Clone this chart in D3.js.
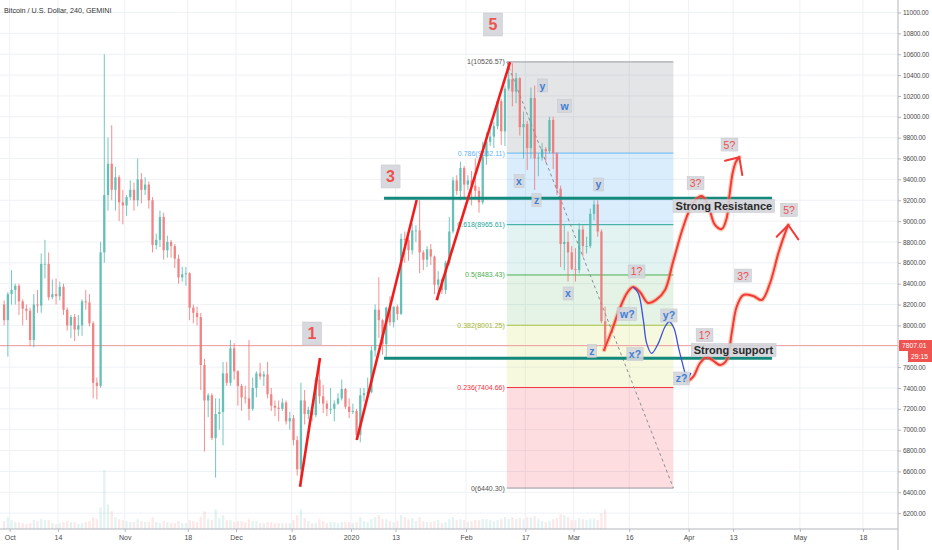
<!DOCTYPE html>
<html>
<head>
<meta charset="utf-8">
<title>Bitcoin / U.S. Dollar, 240, GEMINI</title>
<script src="https://d3js.org/d3.v7.min.js"></script>
<style>
  body { margin: 0; background: #fff; }
  svg text { font-family: "Liberation Sans", Arial, sans-serif; }
  .axis path, .axis line { stroke: #b2b5be; }
  .axis text { fill: #4a4a4a; font-size: 7px; }
  .yaxis text { font-size: 6.5px; letter-spacing: -0.15px; }
</style>
</head>
<body>
<svg id="chart" width="932" height="550"></svg>
<script>
// daily candles, first candle is 2019-09-29 (UTC)
const firstDay = Date.UTC(2019, 8, 29);
const opens = [8200,8050,
  8300,8340,8380,8230,8160,8140,7860,8200,8190,8590,8590,8270,8300,8280,8370,8150,8000,8080,7960,8000,8230,8220,8020,7450,7420,8700,9250,9550,9300,9420,9180,
  9150,9230,9300,9200,9400,9300,9350,9200,8770,8820,9040,8720,8800,8760,8640,8460,8490,8500,8170,8120,8080,7620,7280,7330,6920,7150,7170,7540,7450,7780,
  7560,7420,7310,7300,7200,7400,7540,7510,7530,7340,7230,7210,7200,7260,7080,7110,6900,6620,7280,7150,7190,7140,7480,7320,7250,7200,7200,7250,7300,7390,7220,
  7170,7180,6950,7330,7350,7360,7760,8150,8050,7820,8170,8030,8180,8110,8830,8820,8720,8910,8910,8700,8630,8730,8660,8390,8440,8340,8600,8900,9390,9290,9510,
  9350,9390,9340,9290,9180,9620,9760,9810,9910,10150,9860,10270,10360,10240,10370,9900,9930,9700,10180,9600,9610,9690,9670,9970,9650,9310,8780,8800,8700,
  8540,8530,8920,8760,8760,9070,9160,8900,8040];
const highs = [8240,8320,
  8530,8400,8400,8250,8200,8170,8300,8340,8690,8820,8700,8440,8450,8420,8400,8170,8100,8110,8100,8250,8340,8300,8040,7500,8800,10600,9800,9920,9520,9440,9300,
  9250,9390,9370,9600,9460,9420,9380,9230,8880,9100,9080,8860,8820,8780,8680,8560,8560,8510,8200,8180,8120,7680,7350,7350,7300,7300,7650,7650,7860,7830,
  7570,7440,7420,7860,7500,7560,7640,7560,7650,7400,7280,7280,7300,7280,7170,7140,6940,7450,7380,7220,7200,7500,7620,7430,7280,7400,7280,7350,7480,7400,7300,
  7250,7200,7400,7400,7500,7800,8200,8460,8060,8180,8280,8180,8200,8880,8900,8840,8980,8960,9200,8720,8760,8780,8670,8520,8450,8620,9040,9420,9440,9570,9530,
  9440,9480,9600,9330,9760,9850,9880,9950,10150,10170,10300,10450,10513,10420,10380,10050,9960,10280,10300,9650,9750,9710,10000,10000,9660,9340,8960,8900,8760,
  8740,8980,8960,8850,9120,9200,9200,8920,8180];
const lows = [8000,7700,
  8200,8200,8100,8000,8050,7800,7790,8120,8120,8450,8240,8250,8200,8240,8100,7950,7880,7850,7900,7900,8150,7990,7300,7290,7400,8600,9100,9200,9100,9000,8970,
  9050,9200,9100,9140,9170,9250,9120,8700,8730,8750,8630,8650,8650,8550,8400,8420,8380,8050,8020,8000,7380,6790,7120,6900,6540,7000,6850,7420,7420,7480,
  7230,7180,7250,7090,7180,7310,7480,7420,7300,7180,7130,7080,7180,7050,7000,6850,6560,6450,7050,7100,7080,7120,7250,7160,7130,7150,7080,7240,7280,7200,7110,
  7150,6900,6880,7270,7320,7350,7700,7880,7720,7700,8000,7980,8050,8100,8600,8620,8680,8800,8500,8530,8560,8580,8300,8240,8300,8300,8580,8880,9250,9200,9230,
  9300,9150,9220,9080,9160,9540,9720,9700,9880,9730,9720,10250,10100,10130,9820,9600,9490,9600,9300,9430,9580,9560,9650,9500,9250,8560,8530,8420,8530,
  8420,8500,8660,8690,8740,9010,8850,8020,7750];
const closes = [8050,8300,
  8340,8380,8230,8160,8140,7860,8200,8190,8590,8590,8270,8300,8280,8370,8150,8000,8080,7960,8000,8230,8220,8020,7450,7420,8700,9250,9550,9300,9420,9180,9150,
  9230,9300,9200,9400,9300,9350,9200,8770,8820,9040,8720,8800,8760,8640,8460,8490,8500,8170,8120,8080,7620,7280,7330,6920,7150,7170,7540,7450,7780,7560,
  7420,7310,7300,7200,7400,7540,7510,7530,7340,7230,7210,7200,7260,7080,7110,6900,6620,7280,7150,7190,7140,7480,7320,7250,7200,7200,7250,7300,7390,7220,7170,
  7180,6950,7330,7350,7360,7760,8150,8050,7820,8170,8030,8180,8110,8830,8820,8720,8910,8910,8700,8630,8730,8660,8390,8440,8340,8600,8900,9390,9290,9510,9350,
  9390,9340,9290,9180,9620,9760,9810,9910,10150,9860,10270,10360,10240,10370,9900,9930,9700,10180,9600,9610,9690,9670,9970,9650,9310,8780,8800,8700,8540,
  8530,8920,8760,8760,9070,9160,8900,8040,7807.01];
// relative daily volume
const volumes = [8,12,
  9,7,7,6,5,6,9,8,10,9,9,6,5,6,7,8,7,7,5,6,7,8,12,10,22,60,25,18,12,10,9,
  8,7,7,10,8,7,7,12,7,6,8,7,6,6,8,6,6,9,8,7,12,18,10,9,20,11,14,9,9,7,
  8,8,7,10,8,8,6,6,7,7,6,6,6,6,6,9,14,20,11,8,6,6,10,8,6,7,7,6,7,7,7,
  6,7,12,8,7,10,12,14,10,10,8,7,8,14,12,10,11,8,12,8,7,7,8,9,6,7,10,12,9,10,9,
  7,8,9,9,10,10,9,8,9,10,12,10,12,10,11,10,12,12,13,10,8,7,8,10,11,15,14,12,9,
  9,11,10,9,10,10,9,16,20];
const lastPrice = 7807.01;

// axis ticks
const priceTicks = [6200,6400,6600,6800,7000,7200,7400,7600,7800,8000,8200,8400,8600,8800,9000,9200,9400,9600,9800,10000,10200,10400,10600,10800,11000];
const timeTicks = ['2019-10-01','2019-10-14','2019-11-01','2019-11-18','2019-12-01','2019-12-16','2020-01-01','2020-01-13',
  '2020-02-01','2020-02-17','2020-03-01','2020-03-16','2020-04-01','2020-04-13','2020-05-01','2020-05-18'];
const timeLabels = ['Oct','14','Nov','18','Dec','16','2020','13','Feb','17','Mar','16','Apr','13','May','18'];

// fib retracement (day offsets are counted from 2020-01-01)
const fibStart = 42, fibEnd = 86.9;
const fibLevels = ['1','0.786','0.618','0.5','0.382','0.236','0'];
const fibPrices = [10526.57, 9652.11, 8965.61, 8483.43, 8001.25, 7404.66, 6440.30];
const fibLine = ['#9598a1','#64b5f6','#26a69a','#4caf50','#a9c23f','#f23645','#9598a1'];
const fibFill = ['rgba(120,123,134,0.2)','rgba(33,150,243,0.17)','rgba(38,166,154,0.13)','rgba(76,175,80,0.15)','rgba(205,220,57,0.17)','rgba(242,54,69,0.17)'];

// drawings: [day from 2020-01-01, price]
const waveLines = [
  [[-13.75, 6453], [-8.36, 7687]],
  [[1.54, 6901], [17.7, 9202]],
  [[23.1, 8243], [42.86, 10525]]
];
const levelLines = [
  {price: 9220, from: 8.9, to: 113.5, text: 'Strong Resistance', at: [100.5, 9145]},
  {price: 7684, from: 8.9, to: 113.5, text: 'Strong support', at: [103.1, 7764]}
];
const projection1 = [[68.19,7764],[70.35,7956],[72.51,8167],[74.39,8310],[76.01,8368],[77.9,8320],[80.05,8215],[82.2,8244],
  [84.64,8339],[86.8,8608],[89.57,8946],[92.18,9173],[94.53,9241],[96.23,9154],[98.11,8963],[99.92,8924],[101.27,9030],
  [101.97,9234],[102.88,9461],[103.77,9570],[104.66,9612]];
const projection1Head = [[100.81,9579],[104.66,9612],[105.47,9442]];
const projection2 = [[90.65,7460],[92.26,7508],[94.07,7637],[95.87,7694],[97.65,7661],[99.46,7620],[101.27,7668],[102.61,7924],
  [103.96,8179],[105.74,8291],[108.44,8282],[110.7,8243],[112.94,8404],[115.18,8691],[116.98,8883],[117.87,8963]];
const projection2Head = [[114.74,8850],[117.87,8963],[120.57,8825]];
const correction = [[76.01,8368],[77.44,8308],[78.79,8052],[79.7,7828],[81.05,7732],[82.83,7828],[84.64,7987],[85.8,8035],
  [87.06,7972],[88.22,7796],[89.57,7604],[90.65,7460]];
const correctionHead = [[89.4,7540],[90.65,7460],[91.6,7545]];

const bigLabels = [{t:'1', at:[-10.5,7922]}, {t:'3', at:[10.65,9428]}, {t:'5', at:[38.27,10885]}];
const blueLabels = [
  {t:'y', at:[51.6,10300]}, {t:'w', at:[57.55,10104]}, {t:'x', at:[45.28,9384]}, {t:'z', at:[50.0,9202]},
  {t:'y', at:[66.7,9351]}, {t:'x', at:[58.5,8306]}, {t:'z', at:[64.96,7755]},
  {t:'w?', at:[74.5,8109]}, {t:'x?', at:[76.55,7726]}, {t:'y?', at:[85.7,8095]}, {t:'z?', at:[89.1,7491]}
];
const redLabels = [
  {t:'1?', at:[76.95,8517]}, {t:'3?', at:[92.86,9365]}, {t:'5?', at:[102.0,9734]},
  {t:'1?', at:[95.28,7908]}, {t:'3?', at:[105.66,8478]}, {t:'5?', at:[118.06,9106]}
];

const plotRight = 898, plotBottom = 529;
const dayMs = 864e5;
const jan1 = Date.UTC(2020, 0, 1);
const dayAt = d => new Date(jan1 + d * dayMs);

const svg = d3.select('#chart');
const x = d3.scaleUtc()
  .domain([new Date(Date.UTC(2019, 9, 1)), new Date(Date.UTC(2020, 4, 1))])
  .range([9.7, 799.9]);
const y = d3.scaleLinear().domain([6047.8, 11119.9]).range([plotBottom, 0]);
const yVol = d3.scaleLinear().domain([0, 60]).range([plotBottom, 470]);
const px = p => x(dayAt(p[0]));
const py = p => y(p[1]);

svg.append('rect').attr('width', 932).attr('height', 550).attr('fill', '#fff');
svg.append('clipPath').attr('id', 'plot')
  .append('rect').attr('width', plotRight).attr('height', plotBottom);

// grid
const grid = svg.append('g').attr('clip-path', 'url(#plot)');
grid.selectAll('.hg').data(priceTicks).enter().append('line')
  .attr('x1', 0).attr('x2', plotRight)
  .attr('y1', d => y(d)).attr('y2', d => y(d))
  .attr('stroke', '#eef1f5');
grid.selectAll('.vg').data(timeTicks).enter().append('line')
  .attr('x1', d => x(new Date(d))).attr('x2', d => x(new Date(d)))
  .attr('y1', 0).attr('y2', plotBottom)
  .attr('stroke', '#eef1f5');

const g = svg.append('g').attr('clip-path', 'url(#plot)');

const candles = closes.map((c, i) => ({
  t: new Date(firstDay + (i + 0.5) * dayMs), o: opens[i], h: highs[i], l: lows[i], c: c, v: volumes[i]
}));
const bw = (x(new Date(jan1 + dayMs)) - x(new Date(jan1))) * 0.62;

// volume
g.selectAll('.vol').data(candles).enter().append('rect')
  .attr('x', d => x(d.t) - bw / 2).attr('width', bw)
  .attr('y', d => yVol(d.v)).attr('height', d => plotBottom - yVol(d.v))
  .attr('fill', d => d.c >= d.o ? '#4db6ac' : '#ef6f6f').attr('fill-opacity', 0.16);

// fib retracement
const fx0 = x(dayAt(fibStart)), fx1 = x(dayAt(fibEnd));
fibFill.forEach((c, i) => {
  g.append('rect')
    .attr('x', fx0).attr('width', fx1 - fx0)
    .attr('y', y(fibPrices[i])).attr('height', y(fibPrices[i + 1]) - y(fibPrices[i]))
    .attr('fill', c);
});
fibPrices.forEach((p, i) => {
  g.append('line').attr('x1', fx0).attr('x2', fx1)
    .attr('y1', y(p)).attr('y2', y(p))
    .attr('stroke', fibLine[i]).attr('stroke-width', 1);
  g.append('text')
    .attr('x', fx0 - 2).attr('y', y(p) + 2.5)
    .attr('text-anchor', 'end')
    .attr('font-size', 7)
    .attr('fill', i === 4 ? '#a3b52c' : fibLine[i] === '#9598a1' ? '#555' : fibLine[i])
    .text(fibLevels[i] + '(' + p.toFixed(2) + ')');
});
g.append('line')
  .attr('x1', fx0).attr('y1', y(fibPrices[0]))
  .attr('x2', fx1).attr('y2', y(fibPrices[6]))
  .attr('stroke', '#8a8d96').attr('stroke-dasharray', '3,3');

// last price line
g.append('line').attr('x1', 0).attr('x2', plotRight)
  .attr('y1', y(lastPrice)).attr('y2', y(lastPrice))
  .attr('stroke', '#f3a3a3').attr('stroke-width', 1);

// candles
const cg = g.append('g').attr('opacity', 0.85);
cg.selectAll('.wick').data(candles).enter().append('line')
  .attr('x1', d => x(d.t)).attr('x2', d => x(d.t))
  .attr('y1', d => y(d.h)).attr('y2', d => y(d.l))
  .attr('stroke', d => d.c >= d.o ? '#4db6ac' : '#ef6f6f').attr('stroke-width', 0.9);
cg.selectAll('.body').data(candles).enter().append('rect')
  .attr('x', d => x(d.t) - bw / 2).attr('width', bw)
  .attr('y', d => y(Math.max(d.o, d.c)))
  .attr('height', d => Math.max(0.8, Math.abs(y(d.o) - y(d.c))))
  .attr('fill', d => d.c >= d.o ? '#4db6ac' : '#ef6f6f');

// support / resistance
levelLines.forEach(l => {
  g.append('line')
    .attr('x1', x(dayAt(l.from))).attr('x2', x(dayAt(l.to)))
    .attr('y1', y(l.price)).attr('y2', y(l.price))
    .attr('stroke', '#13897c').attr('stroke-width', 3);
});

// impulse waves
waveLines.forEach(w => {
  g.append('line')
    .attr('x1', px(w[0])).attr('y1', py(w[0]))
    .attr('x2', px(w[1])).attr('y2', py(w[1]))
    .attr('stroke', '#f21c1c').attr('stroke-width', 2.6);
});

// projected paths
const curve = d3.line().x(px).y(py).curve(d3.curveCatmullRom.alpha(0.5));
const straight = d3.line().x(px).y(py);
function redPath(pts, head) {
  g.append('path').attr('d', curve(pts)).attr('fill', 'none')
    .attr('stroke', 'rgba(255,140,90,0.45)').attr('stroke-width', 4.5).attr('stroke-linecap', 'round');
  g.append('path').attr('d', curve(pts)).attr('fill', 'none')
    .attr('stroke', '#f23a3a').attr('stroke-width', 2).attr('stroke-linecap', 'round');
  g.append('path').attr('d', straight(head)).attr('fill', 'none')
    .attr('stroke', '#f23a3a').attr('stroke-width', 2).attr('stroke-linecap', 'round');
}
redPath(projection1, projection1Head);
g.append('path').attr('d', curve(correction)).attr('fill', 'none')
  .attr('stroke', '#3f51d8').attr('stroke-width', 1.3);
g.append('path').attr('d', straight(correctionHead)).attr('fill', 'none')
  .attr('stroke', '#3f51d8').attr('stroke-width', 1.3);
redPath(projection2, projection2Head);

// labels
function boxLabel(item, opts) {
  const t = g.append('text')
    .attr('x', px(item.at)).attr('y', py(item.at))
    .attr('text-anchor', 'middle').attr('dominant-baseline', 'central')
    .attr('font-size', opts.size).attr('font-weight', opts.weight || 'normal')
    .attr('font-family', opts.family || null)
    .attr('fill', opts.color).text(item.t);
  const b = t.node().getBBox();
  g.insert('rect', () => t.node())
    .attr('x', b.x - opts.padX).attr('y', b.y - opts.padY)
    .attr('width', b.width + opts.padX * 2).attr('height', b.height + opts.padY * 2)
    .attr('fill', '#d3d5da').attr('fill-opacity', 0.9)
    .attr('stroke', '#c4c6cc').attr('stroke-width', 0.5);
}
bigLabels.forEach(d => boxLabel(d, {size: 16, weight: 'bold', color: '#ef5350', padX: 5, padY: 3}));
blueLabels.forEach(d => boxLabel(d, {size: 10.5, weight: 'bold', color: '#3f7fd4', padX: 2, padY: 0.5}));
redLabels.forEach(d => boxLabel(d, {size: 10.5, color: '#ef4f4f', padX: 2.5, padY: 0.5}));
levelLines.forEach(l => boxLabel({t: l.text, at: l.at},
  {size: 11, weight: 'bold', color: '#2a2a2a', family: '"Liberation Serif", serif', padX: 2.5, padY: 0.5}));

// axes (the 7800 label sits under the last price tag)
const yAxis = d3.axisRight(y).tickValues(priceTicks).tickSize(3).tickPadding(2)
  .tickFormat(d => d === 7800 ? '' : d3.format('.2f')(d));
svg.append('g').attr('class', 'axis yaxis')
  .attr('transform', `translate(${plotRight},0)`)
  .call(yAxis)
  .call(a => a.select('.domain').attr('d', `M0,0V550`));
const xAxis = d3.axisBottom(x)
  .tickValues(timeTicks.map(d => new Date(d)))
  .tickSize(3)
  .tickFormat((d, i) => timeLabels[i]);
svg.append('g').attr('class', 'axis')
  .attr('transform', `translate(0,${plotBottom})`)
  .call(xAxis)
  .call(a => a.select('.domain').attr('d', `M0,0H${plotRight}`).attr('stroke', '#8f929a').attr('stroke-width', 1.2));

// last price tag
const ly = y(lastPrice);
svg.append('rect').attr('x', plotRight + 1).attr('y', ly - 5.5).attr('width', 33).attr('height', 11).attr('fill', '#ef5350');
svg.append('text').attr('x', plotRight + 4).attr('y', ly + 2.5).attr('font-size', 6.8).attr('fill', '#fff').text(lastPrice.toFixed(2));
svg.append('rect').attr('x', plotRight + 10).attr('y', ly + 5.5).attr('width', 24).attr('height', 11).attr('fill', '#ef5350');
svg.append('text').attr('x', plotRight + 13).attr('y', ly + 13.5).attr('font-size', 6.8).attr('fill', '#fff').text('29:15');

// title
svg.append('text').attr('x', 4).attr('y', 13)
  .attr('font-size', 7.2).attr('fill', '#333')
  .text('Bitcoin / U.S. Dollar, 240, GEMINI');
</script>
</body>
</html>
